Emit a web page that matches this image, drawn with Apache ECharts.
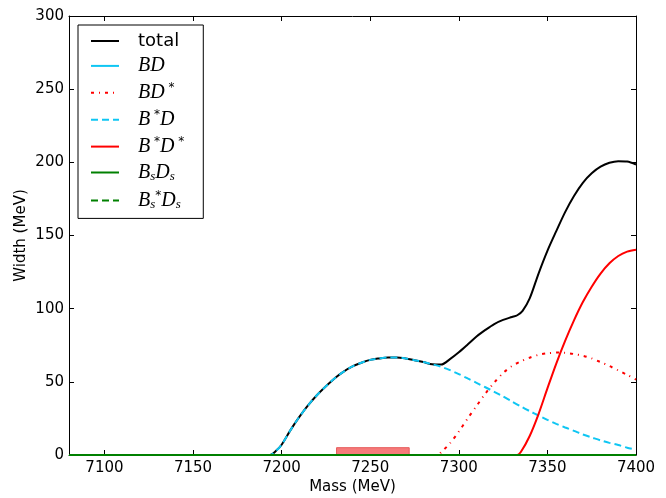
<!DOCTYPE html>
<html>
<head>
<meta charset="utf-8">
<script src="https://cdn.jsdelivr.net/npm/echarts@6/dist/echarts.min.js"></script>
<style>html,body{margin:0;padding:0;background:#fff}#c{width:666px;height:498px}</style>
</head>
<body>
<div id="c"></div>
<script>
// ---- data ----
var xTicks = [7100, 7150, 7200, 7250, 7300, 7350, 7400];
var yTicks = [0, 50, 100, 150, 200, 250, 300];

var massTotal = [7080, 7193.5, 7197, 7200, 7205, 7210, 7215, 7220, 7225, 7230, 7235, 7240, 7245, 7250, 7255, 7260, 7265, 7270, 7275, 7280, 7285, 7290, 7295, 7300, 7305, 7310, 7315, 7320, 7325, 7330, 7333, 7336, 7340, 7345, 7350, 7355, 7360, 7365, 7370, 7375, 7380, 7385, 7390, 7395, 7400];
var widthTotal = [0, 0, 3, 7, 17, 26, 34, 41, 47, 52.5, 57, 60.5, 63, 65, 66, 66.7, 66.7, 66, 64.8, 63.5, 62, 61.8, 65.5, 70.2, 75.5, 81, 85.5, 89.5, 92.3, 94.3, 95.5, 98.5, 107, 124, 139.5, 153, 166, 177, 186, 192.5, 197, 199.7, 200.8, 200.5, 198.5];

var massBsD = [7080, 7193.5, 7197, 7200, 7205, 7210, 7215, 7220, 7225, 7230, 7235, 7240, 7245, 7250, 7255, 7260, 7265, 7270, 7275, 7280, 7285, 7290, 7295, 7300, 7305, 7310, 7315, 7320, 7325, 7330, 7335, 7340, 7345, 7350, 7355, 7360, 7365, 7370, 7375, 7380, 7385, 7390, 7395, 7400];
var widthBsD = [0, 0, 3, 7, 17, 26, 34, 41, 47, 52.5, 57, 60.5, 63, 65, 66, 66.7, 66.7, 66, 64.8, 63.5, 62, 60.3, 58, 55.3, 52.3, 49.3, 46.3, 43.2, 40, 36.5, 33.2, 30, 27, 24, 21.3, 18.8, 16.5, 14, 12, 10, 8.3, 6.8, 5, 3.8];

var massBDs = [7080, 7288.5, 7290, 7295, 7300, 7305, 7310, 7315, 7320, 7325, 7330, 7335, 7340, 7345, 7350, 7355, 7360, 7365, 7370, 7375, 7380, 7385, 7390, 7395, 7400];
var widthBDs = [0, 0, 1.8, 8, 16, 25, 33.5, 42, 49.5, 56, 60.8, 64, 66.5, 68.5, 69.5, 70, 69.8, 69, 67.8, 66, 63.5, 60.8, 57.8, 54.8, 51.5];

var massBsDs = [7080, 7333, 7335, 7340, 7345, 7350, 7355, 7360, 7365, 7370, 7375, 7380, 7385, 7390, 7395, 7400];
var widthBsDs = [0, 0, 2, 13, 28, 45.5, 62.5, 78, 92, 104.5, 115, 124, 131, 136, 139, 140.3];

var massZero = [7080, 7400];
var widthZero = [0, 0];

var bandMass = [7231, 7272];
var bandWidth = [0, 5];

function pairs(xs, ys) { return xs.map(function (x, i) { return [x, ys[i]]; }); }

var cyan = '#0fc6f3', red = '#ff0000', green = '#008000';

var legendText = {
  'total': '{g| }{n|total}',
  'BD': '{g| }{i|BD}',
  'BD*': '{g| }{i|BD}{sp| *}',
  'B*D': '{g| }{i|B}{sp| *}{i|D}',
  'B*D*': '{g| }{i|B}{sp| *}{i|D}{sp| *}',
  'BsDs': '{g| }{i|B}{sb|s}{i|D}{sb|s}',
  'Bs*Ds': '{g| }{i|B}{sb|s}{sp|*}{i|D}{sb|s}'
};

function line(name, data, color, type, extra) {
  var s = {
    name: name, type: 'line', data: data, symbol: 'none', showSymbol: false, smooth: 0.3,
    lineStyle: { color: color, width: 2, type: type }, itemStyle: { color: color },
    clip: true, animation: false
  };
  if (extra) for (var k in extra) s[k] = extra[k];
  return s;
}

var chart = echarts.init(document.getElementById('c'), null, { renderer: 'canvas' });
var axisFont = { fontFamily: 'DejaVu Sans', fontSize: 15, color: '#000' };
chart.setOption({
  animation: false,
  backgroundColor: '#fff',
  grid: { left: 69, right: 30, top: 16, bottom: 43, containLabel: false, outerBoundsMode: 'none' },
  xAxis: [{
    type: 'value', min: 7080, max: 7400, interval: 50,
    name: 'Mass (MeV)', nameLocation: 'middle', nameGap: 25, nameTextStyle: axisFont,
    nameMoveOverlap: false,
    axisLine: { show: true, onZero: false, lineStyle: { color: '#000', width: 1 } },
    axisTick: { show: true, inside: true, length: 5, lineStyle: { color: '#000' },
      customValues: xTicks },
    axisLabel: { margin: 6, fontFamily: 'DejaVu Sans', fontSize: 15, color: '#000',
      customValues: xTicks, formatter: function (v) { return String(v); } },
    splitLine: { show: false }
  }, {
    type: 'value', min: 7080, max: 7400, position: 'top',
    axisLine: { show: true, onZero: false, lineStyle: { color: '#000', width: 1 } },
    axisTick: { show: true, inside: true, length: 5, lineStyle: { color: '#000' }, customValues: xTicks },
    axisLabel: { show: false }, splitLine: { show: false }
  }],
  yAxis: [{
    type: 'value', min: 0, max: 300, interval: 50,
    name: 'Width (MeV)', nameLocation: 'middle', nameGap: 40, nameTextStyle: axisFont,
    nameMoveOverlap: false,
    axisLine: { show: true, onZero: false, lineStyle: { color: '#000', width: 1 } },
    axisTick: { show: true, inside: true, length: 5, lineStyle: { color: '#000' } },
    axisLabel: { margin: 5, fontFamily: 'DejaVu Sans', fontSize: 15, color: '#000',
      customValues: yTicks },
    splitLine: { show: false }
  }, {
    type: 'value', min: 0, max: 300, interval: 50, position: 'right',
    axisLine: { show: true, onZero: false, lineStyle: { color: '#000', width: 1 } },
    axisTick: { show: true, inside: true, length: 5, lineStyle: { color: '#000' } },
    axisLabel: { show: false }, splitLine: { show: false }
  }],
  legend: {
    show: true, orient: 'vertical', left: 78, top: 25,
    padding: [7, 19, 7, 12], itemGap: 5.9, itemWidth: 28, itemHeight: 14,
    borderColor: '#000', borderWidth: 1, borderRadius: 0, backgroundColor: '#fff',
    selectedMode: false,
    itemStyle: { opacity: 0 },
    data: ['total', 'BD', 'BD*', 'B*D', 'B*D*', 'BsDs', 'Bs*Ds'],
    formatter: function (n) { return legendText[n]; },
    textStyle: {
      color: '#000',
      rich: {
        g: { width: 14, fontSize: 10 },
        n: { fontFamily: 'DejaVu Sans', fontSize: 18, lineHeight: 22, color: '#000' },
        i: { fontFamily: 'Liberation Serif', fontStyle: 'italic', fontSize: 20, lineHeight: 22, color: '#000' },
        sp: { fontFamily: 'DejaVu Sans', fontSize: 12, lineHeight: 12, verticalAlign: 'top', color: '#000' },
        sb: { fontFamily: 'Liberation Serif', fontStyle: 'italic', fontSize: 13, lineHeight: 13, verticalAlign: 'bottom', color: '#000' }
      }
    }
  },
  series: [
    line('total', pairs(massTotal, widthTotal), '#000', 'solid'),
    line('BD', pairs(massZero, widthZero), cyan, 'solid', {
      smooth: false,
      markArea: {
        silent: true,
        itemStyle: { color: '#f67a7a', borderColor: '#e65a5a', borderWidth: 1 },
        data: [[{ xAxis: bandMass[0], yAxis: bandWidth[0] }, { xAxis: bandMass[1], yAxis: bandWidth[1] }]]
      }
    }),
    line('BD*', pairs(massBDs, widthBDs), red, [3, 5, 1, 5]),
    line('B*D', pairs(massBsD, widthBsD), cyan, [7, 4]),
    line('B*D*', pairs(massBsDs, widthBsDs), red, 'solid'),
    line('BsDs', pairs(massZero, widthZero), green, 'solid', { smooth: false }),
    line('Bs*Ds', pairs(massZero, widthZero), green, [7, 4], { smooth: false })
  ]
});
</script>
</body>
</html>
